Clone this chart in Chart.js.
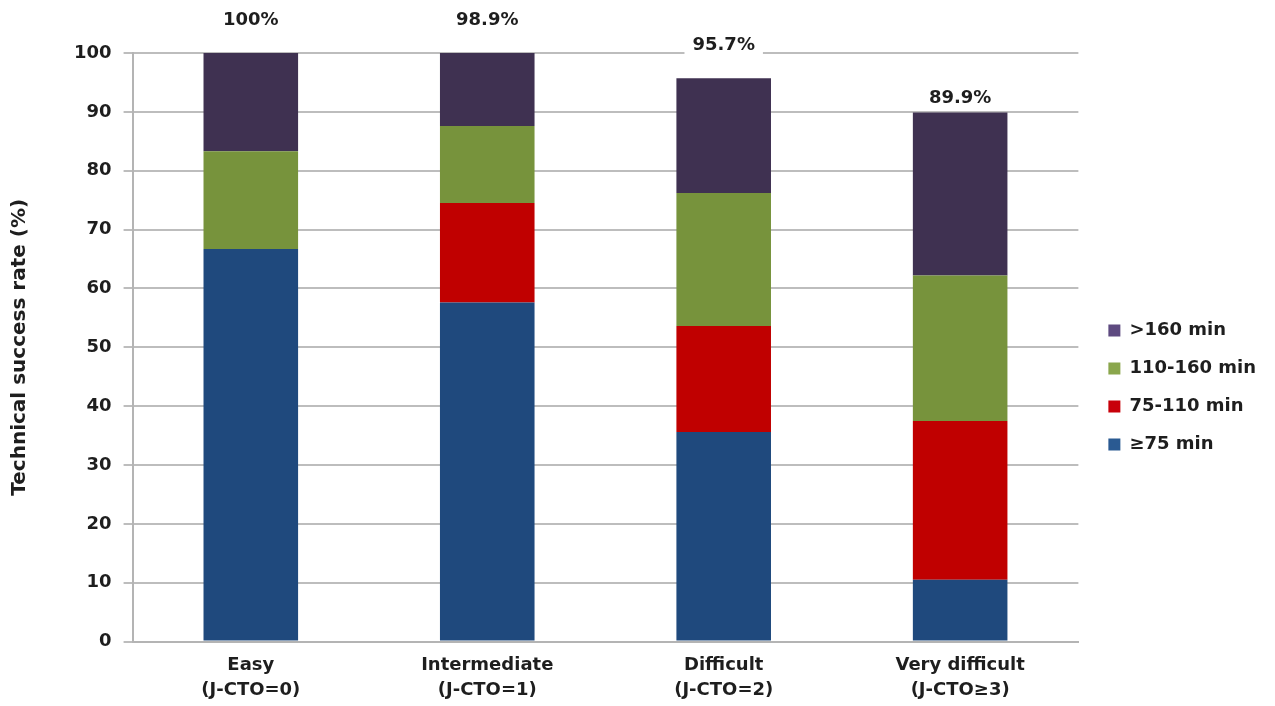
<!DOCTYPE html>
<html>
<head>
<meta charset="utf-8">
<script src="https://cdn.jsdelivr.net/npm/chart.js@4"></script>
<style>
  html, body { margin: 0; padding: 0; background: #ffffff; }
  #wrap { width: 1275px; height: 706px; }
</style>
</head>
<body>
<div id="wrap"><canvas id="c" width="1275" height="706"></canvas></div>
<script>
const categories = [["Easy", "(J-CTO=0)"], ["Intermediate", "(J-CTO=1)"], ["Difficult", "(J-CTO=2)"], ["Very difficult", "(J-CTO\u22653)"]];
const seriesNames = ["\u226575 min", "75-110 min", "110-160 min", ">160 min"];
const under75 = [66.7, 57.6, 35.6, 10.5];
const from75to110 = [0, 16.9, 18.0, 27.0];
const from110to160 = [16.6, 13.1, 22.6, 24.7];
const over160 = [16.7, 12.4, 19.5, 27.7];
const successRates = ["100%", "98.9%", "95.7%", "89.9%"];
const yTicks = [0, 10, 20, 30, 40, 50, 60, 70, 80, 90, 100];

const barColors = ["#1f497d", "#c00000", "#77933c", "#3f3151"];
const legendColors = ["#2a5a92", "#c8000a", "#8aa64c", "#5e4a80"];
const FONT = "'DejaVu Sans', 'Liberation Sans', Arial, sans-serif";
const TEXT = "#1e1e1e";

const seriesValues = [under75, from75to110, from110to160, over160];

const topLabels = {
  id: 'topLabels',
  afterDatasetsDraw(chart, args, opts) {
    const ctx = chart.ctx;
    const n = chart.data.datasets.length;
    ctx.save();
    ctx.font = "bold 18px " + FONT;
    ctx.textAlign = 'center';
    ctx.textBaseline = 'middle';
    successRates.forEach((txt, i) => {
      let top = Infinity, x = 0;
      for (let d = 0; d < n; d++) {
        const el = chart.getDatasetMeta(d).data[i];
        if (el && chart.data.datasets[d].data[i] > 0) { top = Math.min(top, el.y); x = el.x; }
      }
      const y = top - opts.offsets[i];
      const w = ctx.measureText(txt).width + 16;
      ctx.fillStyle = '#ffffff';
      ctx.fillRect(x - w / 2, y - 12, w, 24);
      ctx.fillStyle = TEXT;
      ctx.fillText(txt, x, y);
    });
    ctx.restore();
  }
};

new Chart(document.getElementById('c'), {
  type: 'bar',
  data: {
    labels: categories,
    datasets: seriesNames.map((name, k) => ({
      label: name,
      data: seriesValues[k],
      backgroundColor: barColors[k],
      borderWidth: 0,
      barPercentage: 0.4,
      categoryPercentage: 1.0
    }))
  },
  options: {
    responsive: false,
    animation: false,
    layout: { padding: { top: 53, right: 9, bottom: -8, left: 4 } },
    plugins: {
      tooltip: { enabled: false },
      topLabels: { offsets: [33, 33, 33, 14] },
      legend: {
        position: 'right',
        align: 'center',
        reverse: true,
        title: { display: true, text: ' ', padding: { top: 1, bottom: 0 }, font: { size: 6 } },
        labels: {
          boxWidth: 12,
          boxHeight: 12,
          padding: 20,
          color: TEXT,
          font: { family: FONT, size: 18, weight: 'bold' },
          generateLabels(chart) {
            const items = Chart.defaults.plugins.legend.labels.generateLabels(chart);
            items.forEach(it => { it.fillStyle = legendColors[it.datasetIndex]; it.strokeStyle = legendColors[it.datasetIndex]; it.lineWidth = 0; });
            return items;
          }
        }
      }
    },
    scales: {
      x: {
        stacked: true,
        grid: { display: false, drawTicks: false },
        border: { display: true, color: '#b4b4b4', width: 2 },
        ticks: {
          color: TEXT,
          padding: 11,
          maxRotation: 0,
          font: { family: FONT, size: 18, weight: 'bold', lineHeight: 1.4 }
        }
      },
      y: {
        stacked: true,
        min: 0,
        max: 100,
        afterBuildTicks(axis) { axis.ticks = yTicks.map(v => ({ value: v })); },
        grid: { color: '#bdbdbd', lineWidth: 2, tickLength: 9, drawTicks: true },
        border: { display: true, color: '#b4b4b4', width: 2 },
        ticks: {
          color: TEXT,
          padding: 12,
          font: { family: FONT, size: 18, weight: 'bold' }
        },
        title: {
          display: true,
          text: 'Technical success rate (%)',
          color: TEXT,
          padding: { top: 4, bottom: 30 },
          font: { family: FONT, size: 20, weight: 'bold' }
        }
      },
      gap: {
        type: 'linear',
        position: 'right',
        display: true,
        grid: { display: false, drawTicks: false },
        border: { display: false },
        ticks: { display: false },
        afterFit(axis) { axis.width = 10; }
      }
    }
  },
  plugins: [topLabels]
});
</script>
</body>
</html>
